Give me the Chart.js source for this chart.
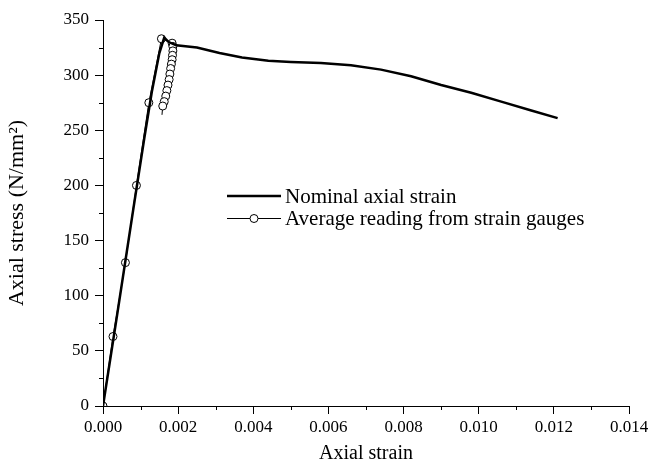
<!DOCTYPE html>
<html>
<head>
<meta charset="utf-8">
<script src="https://cdn.jsdelivr.net/npm/chart.js@4/dist/chart.umd.min.js"></script>
<style>
  html, body { margin: 0; padding: 0; background: #fff; }
  #wrap { width: 670px; height: 470px; position: relative; }
</style>
</head>
<body>
<div id="wrap"><canvas id="chart" width="670" height="470"></canvas></div>
<script>
// nominal axial strain curve (thick line)
const nominalStrain = [0, 0.0004, 0.0008, 0.0011, 0.0013, 0.0015, 0.00163, 0.00175, 0.00195, 0.0025, 0.0031, 0.0037, 0.0044, 0.0050, 0.0058, 0.0066, 0.0074, 0.0082, 0.0090, 0.0098, 0.0106, 0.0114, 0.0121];
const nominalStress = [0, 88, 177, 243, 285, 320, 334, 330, 327, 325, 320, 316, 313, 312, 311, 309, 305, 299, 291, 284, 276, 268, 261];

// average reading from strain gauges (thin line + circles)
const gaugeStrain = [0, 0.000266, 0.000597, 0.00089, 0.00122, 0.001555, 0.00184, 0.00186, 0.00186, 0.00185, 0.00184, 0.00182, 0.00180, 0.00178, 0.00176, 0.00173, 0.00170, 0.00167, 0.00163, 0.00159, 0.00157];
const gaugeStress = [0, 63, 130, 200, 275, 333, 329, 326, 322, 318, 314, 310, 306, 301, 296, 291, 286, 281, 276, 272, 264];

const seriesLabels = ['Nominal axial strain', 'Average reading from strain gauges'];
const xTitle = 'Axial strain';
const yTitle = 'Axial stress (N/mm\u00B2)';

const FONT = "'Liberation Serif', 'Times New Roman', serif";

const toPts = (xs, ys) => xs.map((x, i) => ({ x, y: ys[i] }));

// minor ticks halfway between major ones, drawn outward
const minorTicks = {
  id: 'minorTicks',
  afterDraw(chart) {
    const { ctx, chartArea, scales } = chart;
    ctx.save();
    ctx.strokeStyle = '#000';
    ctx.lineWidth = 1;
    ctx.beginPath();
    for (let v = 0.001; v < 0.014; v += 0.002) {
      const px = Math.round(scales.x.getPixelForValue(v)) + 0.5;
      ctx.moveTo(px, chartArea.bottom);
      ctx.lineTo(px, chartArea.bottom + 4);
    }
    for (let v = 25; v < 350; v += 50) {
      const py = Math.round(scales.y.getPixelForValue(v)) + 0.5;
      ctx.moveTo(chartArea.left, py);
      ctx.lineTo(chartArea.left - 4, py);
    }
    ctx.stroke();
    ctx.restore();
  }
};

// legend drawn inside the plot area
const innerLegend = {
  id: 'innerLegend',
  afterDraw(chart) {
    const { ctx } = chart;
    const x0 = 227, x1 = 281, rows = [196, 218];
    ctx.save();
    ctx.strokeStyle = '#000';
    ctx.fillStyle = '#000';
    ctx.font = '21px ' + FONT;
    ctx.textBaseline = 'middle';
    chart.data.datasets.forEach((ds, i) => {
      const y = rows[i] + (ds.borderWidth === 1 ? 0.5 : 0);
      ctx.lineWidth = ds.borderWidth;
      ctx.beginPath();
      ctx.moveTo(x0, y);
      ctx.lineTo(x1, y);
      ctx.stroke();
      if (i === 1) {
        ctx.lineWidth = 1;
        ctx.beginPath();
        ctx.arc((x0 + x1) / 2, y, 4, 0, Math.PI * 2);
        ctx.fillStyle = '#fff';
        ctx.fill();
        ctx.stroke();
        ctx.fillStyle = '#000';
      }
      ctx.fillText(ds.label, x1 + 4, rows[i] + 1);
    });
    ctx.restore();
  }
};

new Chart(document.getElementById('chart'), {
  type: 'scatter',
  data: {
    datasets: [
      {
        label: seriesLabels[0],
        data: toPts(nominalStrain, nominalStress),
        showLine: true,
        borderColor: '#000',
        borderWidth: 2.5,
        pointRadius: 0,
        tension: 0,
        order: 0,
      },
      {
        label: seriesLabels[1],
        data: toPts(gaugeStrain, gaugeStress),
        showLine: true,
        borderColor: '#000',
        borderWidth: 1,
        pointRadius: (c) => c.dataIndex === gaugeStrain.length - 1 ? 0 : 4,
        pointBackgroundColor: '#fff',
        pointBorderColor: '#000',
        pointBorderWidth: 1,
        tension: 0,
        order: 1,
      },
    ],
  },
  options: {
    responsive: false,
    animation: false,
    devicePixelRatio: 1,
    layout: { padding: { top: 20, right: 41, left: 0, bottom: 0 } },
    plugins: {
      legend: { display: false },
      tooltip: { enabled: false },
    },
    scales: {
      x: {
        type: 'linear',
        min: 0,
        max: 0.014,
        afterFit: (s) => { s.height = 64; },
        border: { color: '#000', width: 1 },
        grid: { drawOnChartArea: false, color: '#000', tickLength: 8 },
        ticks: {
          stepSize: 0.002,
          color: '#000',
          padding: 3,
          maxRotation: 0,
          font: { family: FONT, size: 17 },
          callback: (v) => v.toFixed(3),
        },
        title: {
          display: true,
          text: xTitle,
          color: '#000',
          font: { family: FONT, size: 20 },
          padding: { top: 8 },
        },
      },
      y: {
        type: 'linear',
        min: 0,
        max: 350,
        afterFit: (s) => { s.width = 103; },
        border: { color: '#000', width: 1 },
        grid: { drawOnChartArea: false, color: '#000', tickLength: 8 },
        ticks: {
          stepSize: 50,
          color: '#000',
          padding: 6,
          font: { family: FONT, size: 17 },
        },
        title: {
          display: true,
          text: yTitle,
          color: '#000',
          font: { family: FONT, size: 22 },
          padding: { bottom: 2 },
        },
      },
    },
  },
  plugins: [minorTicks, innerLegend],
});
</script>
</body>
</html>
